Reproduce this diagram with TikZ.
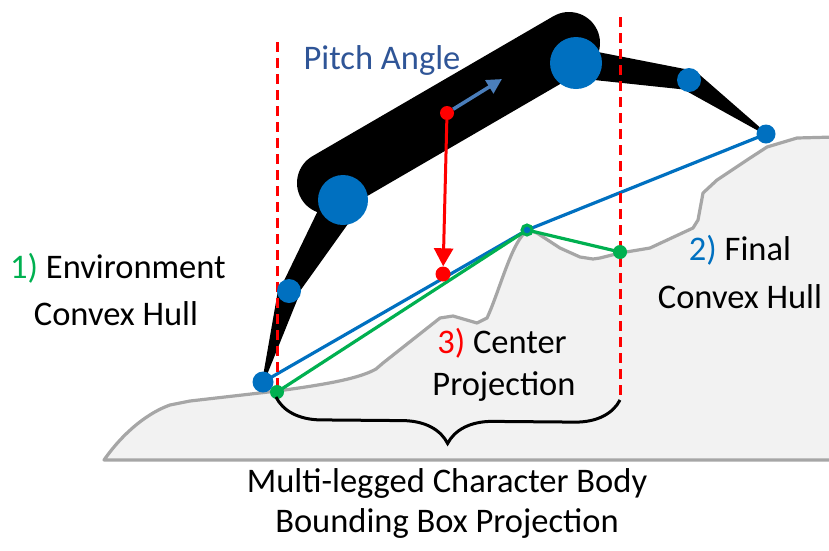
\documentclass[tikz,border=0pt]{standalone}
\usepackage{fontspec}
\setmainfont{Carlito}
\usetikzlibrary{calc,decorations.pathreplacing,arrows.meta}
\definecolor{jointblue}{HTML}{0070C0}
\definecolor{hullgreen}{HTML}{00B050}
\definecolor{pitchblue}{HTML}{4A7EBB}
\definecolor{labelblue}{HTML}{2F5597}
\definecolor{groundfill}{HTML}{F2F2F2}
\definecolor{groundline}{HTML}{A6A6A6}
\tikzset{
  joint/.style={circle,fill=jointblue,inner sep=0pt,minimum size=#1},
  hullpt/.style={circle,fill=hullgreen,inner sep=0pt,minimum size=14pt},
  compt/.style={circle,fill=red,inner sep=0pt,minimum size=#1},
  lbl/.style={anchor=base,inner sep=0pt,font=\fontsize{34.5}{40}\selectfont},
  bbox/.style={red,line width=3pt,dash pattern=on 10pt off 6pt}
}
% tapered leg segment: from, to, half width at from, half width at to
\newcommand\drawlimb[4]{%
  \fill ($(#1)!#3!90:(#2)$) -- ($(#2)!#4!-90:(#1)$) -- ($(#2)!#4!90:(#1)$) -- ($(#1)!#3!-90:(#2)$) -- cycle;}

\begin{document}
\begin{tikzpicture}[x=1pt,y=-1pt]
\useasboundingbox (0,0) rectangle (829,550);
% ground
\filldraw[groundline,fill=groundfill,line width=3.2pt,line join=round]
  (104,460) .. controls (125,430) and (150,412) .. (170,405) -- (190,401) -- (277,391)
  .. controls (330,384) and (360,378) .. (376,369) -- (383,363) -- (440,318) -- (453,316)
  -- (477,323) -- (487,318) .. controls (500,290) and (512,240) .. (528,230) -- (537,233)
  -- (560,248) -- (580,257) -- (593,259) -- (600,258) -- (620,253) -- (650,248) -- (693,228)
  -- (698,220) -- (703,193) -- (717,180) -- (747,160) -- (767,147) -- (797,138) -- (835,137)
  -- (835,460) -- cycle;

\coordinate (hipL) at (343,200);
\coordinate (hipR) at (576,63);
\coordinate (kneeL) at (289,291);
\coordinate (kneeR) at (689,80);
\coordinate (footL) at (263,382);
\coordinate (footR) at (766,134);
\coordinate (envL) at (277,392);
\coordinate (envR) at (620,252);
\coordinate (peak) at (527,230);

% hulls
\draw[jointblue,line width=3.2pt,line join=round] (footL) -- (peak) -- (footR);
\draw[hullgreen,line width=3.2pt,line join=round] (envL) -- (peak) -- (envR);

% legs and body
\drawlimb{hipL}{kneeL}{18pt}{9pt}
\drawlimb{kneeL}{footL}{11pt}{1pt}
\drawlimb{hipR}{kneeR}{15pt}{10pt}
\drawlimb{kneeR}{footR}{11pt}{1pt}
\draw[line width=62pt,line cap=round] (328,183) coordinate (bodyL) -- (569,43) coordinate (bodyR);

% bounding box of the body
\draw[bbox] (277,42) coordinate (boxLtop) -- (277,388) coordinate (boxLbot);
\draw[bbox] (620,17) coordinate (boxRtop) -- (620,400) coordinate (boxRbot);

\node[joint=50pt] (jHipL) at (hipL) {};
\node[joint=52pt] (jHipR) at (hipR) {};
\node[joint=24pt] (jKneeL) at (kneeL) {};
\node[joint=24pt] (jKneeR) at (kneeR) {};
\node[joint=21pt] (jFootL) at (footL) {};
\node[joint=19pt] (jFootR) at (footR) {};
\node[hullpt] (pEnvL) at (envL) {};
\node[hullpt] (pEnvR) at (envR) {};
\node[circle,draw=hullgreen,fill=jointblue,line width=3pt,inner sep=0pt,minimum size=10pt] (pPeak) at (peak) {};

% center of mass and its projection
\node[compt=14pt] (com) at (447,113) {};
\node[compt=15pt] (proj) at (443,274) {};
\coordinate (pitchTip) at (502,79);
\draw[pitchblue,line width=3.5pt,-{Triangle[length=15pt,width=15pt]}] (com) -- (pitchTip);
\draw[red,line width=3pt,-{Triangle[length=18pt,width=19pt]}] (com) -- (proj);

\draw[line width=3pt,decorate,decoration={brace,amplitude=45pt,mirror}] (276,397) coordinate (braceL) -- (620,400) coordinate (braceR);

% labels
\node[lbl,text=labelblue] (pitch) at (382,69) {Pitch Angle};
\node[lbl] (envA) at (118,278) {\textcolor{hullgreen}{1)} Environment};
\node[lbl] (envB) at (116,325) {Convex Hull};
\node[lbl] (finA) at (740,260) {\textcolor{jointblue}{2)} Final};
\node[lbl] (finB) at (740,308) {Convex Hull};
\node[lbl] (cenA) at (502,353) {\textcolor{red}{3)} Center};
\node[lbl] (cenB) at (504,395) {Projection};
\node[lbl] (bodyA) at (447,492) {Multi-legged Character Body};
\node[lbl] (bodyB) at (447,532) {Bounding Box Projection};
\end{tikzpicture}
\end{document}
